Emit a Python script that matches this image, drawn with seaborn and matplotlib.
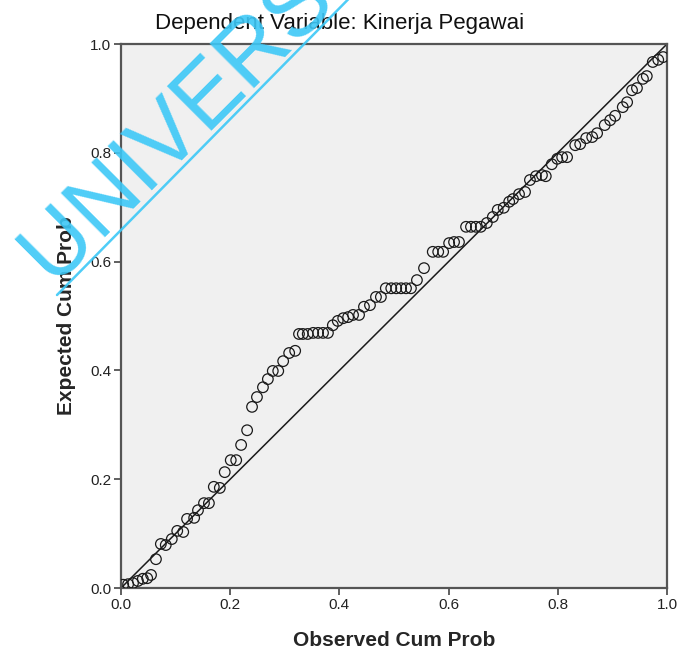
import numpy as np
import pandas as pd
import seaborn as sns
import matplotlib
matplotlib.use("Agg")
import matplotlib.pyplot as plt
from matplotlib.lines import Line2D

# P-P plot of regression standardized residual
observed = [0.004, 0.013, 0.022, 0.031, 0.040, 0.048, 0.055, 0.064, 0.073, 0.082,
            0.093, 0.103, 0.114, 0.121, 0.134, 0.141, 0.152, 0.161, 0.170, 0.181,
            0.190, 0.201, 0.211, 0.220, 0.231, 0.240, 0.249, 0.260, 0.269, 0.278,
            0.288, 0.297, 0.308, 0.319, 0.326, 0.333, 0.342, 0.352, 0.361, 0.370,
            0.379, 0.388, 0.397, 0.407, 0.416, 0.425, 0.436, 0.445, 0.456, 0.467,
            0.476, 0.485, 0.495, 0.504, 0.513, 0.522, 0.531, 0.542, 0.555, 0.571,
            0.581, 0.590, 0.601, 0.610, 0.619, 0.632, 0.641, 0.650, 0.659, 0.670,
            0.681, 0.690, 0.701, 0.711, 0.718, 0.729, 0.740, 0.749, 0.760, 0.771,
            0.778, 0.789, 0.799, 0.808, 0.817, 0.832, 0.841, 0.852, 0.863, 0.872,
            0.886, 0.896, 0.905, 0.919, 0.927, 0.936, 0.945, 0.956, 0.963, 0.974,
            0.984, 0.993]
expected = [0.006, 0.007, 0.009, 0.013, 0.017, 0.018, 0.024, 0.053, 0.081, 0.079,
            0.090, 0.105, 0.103, 0.127, 0.129, 0.143, 0.156, 0.156, 0.186, 0.184,
            0.213, 0.235, 0.235, 0.263, 0.290, 0.333, 0.351, 0.369, 0.384, 0.399,
            0.399, 0.417, 0.432, 0.436, 0.467, 0.467, 0.467, 0.469, 0.469, 0.469,
            0.469, 0.483, 0.491, 0.496, 0.498, 0.502, 0.502, 0.517, 0.520, 0.535,
            0.535, 0.551, 0.551, 0.551, 0.551, 0.551, 0.551, 0.566, 0.588, 0.618,
            0.618, 0.618, 0.634, 0.636, 0.636, 0.664, 0.664, 0.664, 0.664, 0.671,
            0.682, 0.695, 0.699, 0.710, 0.715, 0.724, 0.728, 0.750, 0.757, 0.759,
            0.757, 0.779, 0.789, 0.792, 0.792, 0.814, 0.816, 0.827, 0.829, 0.836,
            0.851, 0.860, 0.868, 0.884, 0.893, 0.915, 0.919, 0.936, 0.941, 0.967,
            0.971, 0.976]
ticks = [0.0, 0.2, 0.4, 0.6, 0.8, 1.0]
tick_labels = ["0.0", "0.2", "0.4", "0.6", "0.8", "1.0"]

data = pd.DataFrame({"observed": observed, "expected": expected})

sns.set_style("white")
plt.rcParams["font.family"] = ["Liberation Sans", "DejaVu Sans"]

fig = plt.figure(figsize=(6.79, 6.54), dpi=100)
ax = fig.add_axes([0.1782, 0.1009, 0.8041, 0.8318])
ax.set_facecolor("#f0f0f0")

ax.axline((0, 0), slope=1, color="#1a1a1a", lw=1.1, zorder=2)
sns.scatterplot(data=data, x="observed", y="expected", ax=ax, marker="o", s=58,
                facecolors="none", edgecolor="#1a1a1a", linewidth=0.9, zorder=3)

ax.set_xlim(0, 1)
ax.set_ylim(0, 1)
ax.set_xticks(ticks)
ax.set_xticklabels(tick_labels)
ax.set_yticks(ticks)
ax.set_yticklabels(tick_labels)
ax.tick_params(direction="out", length=5, width=1.2, color="#444444",
               labelsize=11, labelcolor="#222222", pad=2, bottom=True, left=True)
for sp in ax.spines.values():
    sp.set_color("#555555")
    sp.set_linewidth(1.6)

ax.set_xlabel("Observed Cum Prob", fontsize=15, fontweight="bold", labelpad=14)
ax.set_ylabel("Expected Cum Prob", fontsize=15, fontweight="bold", labelpad=10)
fig.text(0.5, 1 - 29 / 654, "Dependent Variable: Kinerja Pegawai", fontsize=16,
         ha="center", va="baseline", color="#111111")

# watermark
fig.text(52 / 679, 1 - 283 / 654, "UNIVERSITAS", fontsize=65, rotation=45,
         rotation_mode="anchor", ha="left", va="baseline", color="#3cc8f7",
         alpha=0.9, zorder=10)
fig.add_artist(Line2D([57 / 679, 380 / 679], [1 - 295 / 654, 1 + 33 / 654],
                      color="#3cc8f7", lw=1.8, alpha=0.9, zorder=10))

fig.savefig("out.png", dpi=100, facecolor="white")
